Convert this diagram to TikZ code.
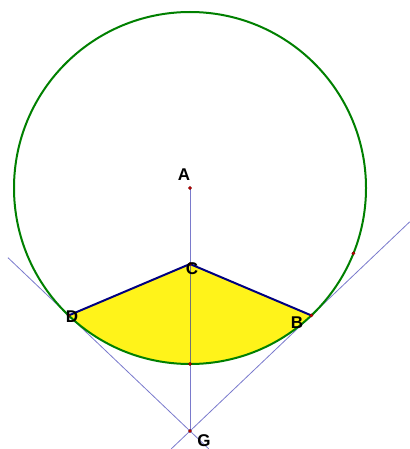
\documentclass[tikz,border=0pt]{standalone}
\usepackage{fontspec}
\setmainfont{Liberation Sans}
\usetikzlibrary{calc}

\begin{document}
\begin{tikzpicture}[x=1pt, y=1pt,
    pt/.style={circle, fill=red!80!black, draw=red!40!black, line width=0.3pt, inner sep=1.2pt},
    thinline/.style={line width=0.8pt, color=blue!40!white!80!black},
    ptlabel/.style={font=\fontsize{17}{17}\selectfont\bfseries, inner sep=0pt}
  ]
  \useasboundingbox (0,0) rectangle (409,-449);
  % --- Points ---
  \coordinate (A) at (190,-188);
  \coordinate (C) at (190,-264);
  \coordinate (G) at (190,-431);
  \coordinate (D) at ($(A)+(226.4:176)$);
  \coordinate (B) at ($(A)+(313.6:176)$);
  \coordinate (E) at ($(A)+(270:176)$);
  \coordinate (F) at ($(A)+(-21.8:176)$);
  \coordinate (L1) at ($(G)!1.5!(D)$);
  \coordinate (L2) at ($(G)!1.81!(B)$);
  \coordinate (L3) at ($(G)!-0.155!(D)$);
  \coordinate (L4) at ($(G)!-0.155!(B)$);

  % --- Sector (shaded) ---
  \fill[yellow!100!orange!90!white] (C) -- (D) arc[start angle=226.4, end angle=313.6, radius=176] -- cycle;

  % --- Lines ---
  \draw[thinline] (L1) -- (L3);
  \draw[thinline] (L4) -- (L2);
  \draw[thinline] (A) -- (C);
  \draw[line width=0.8pt, black!55] (C) -- (E);
  \draw[thinline] (E) -- (G);

  % --- Circle ---
  \draw[line width=2pt, green!50!black] (A) circle[radius=176];

  % --- Sides ---
  \draw[line width=2pt, blue!50!black] (D) -- (C) -- (B);

  % --- Dots ---
  \node[pt] (pA) at (A) {};
  \node[pt] (pC) at (C) {};
  \node[pt] (pD) at (D) {};
  \node[pt] (pB) at (B) {};
  \node[pt] (pE) at (E) {};
  \node[pt] (pF) at (F) {};
  \node[pt] (pG) at (G) {};

  % --- Labels ---
  \node[ptlabel] (lA) at (184,-175) {A};
  \node[ptlabel] (lC) at (192,-269) {C};
  \node[ptlabel] (lD) at (72,-317) {D};
  \node[ptlabel] (lB) at (297,-323) {B};
  \node[ptlabel] (lG) at (204,-441) {G};
\end{tikzpicture}
\end{document}
